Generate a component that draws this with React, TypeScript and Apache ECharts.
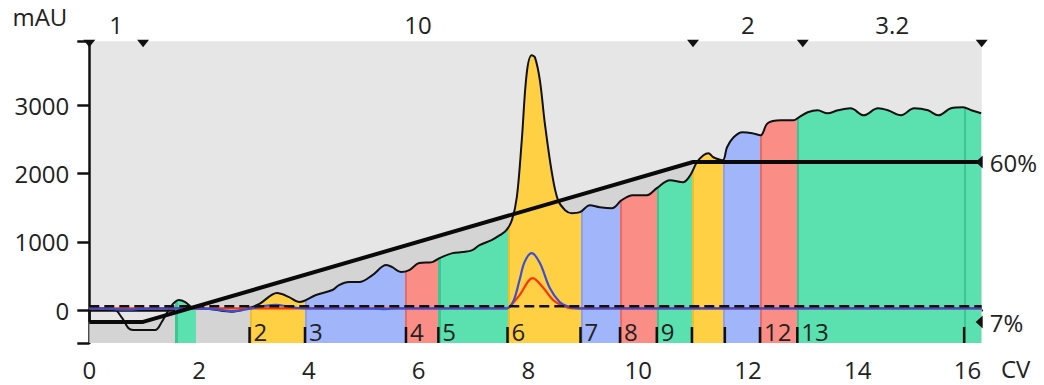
import React, { useEffect, useRef } from 'react';
import * as echarts from 'echarts';

// ---------- data ----------
const X_MIN = 0;
const X_MAX = 16.26;
const Y_MIN = -483;
const Y_MAX = 3937;

const xTickValues = [0, 2, 4, 6, 8, 10, 12, 14, 16];
const yTickValues = [0, 1000, 2000, 3000];
const xUnit = 'CV';
const yUnit = 'mAU';

// UV 1 (mAU) chromatogram
const uvCurve: [number, number][] = [
  [0, 25], [0.44, 15], [0.6, -120], [0.71, -263], [0.8, -293], [1.2, -293], [1.32, -176],
  [1.48, 44], [1.63, 146], [1.75, 117], [1.9, 29], [2.2, 15], [2.6, -25], [2.9, 29],
  [3.1, 90], [3.42, 249], [3.64, 190], [3.82, 117], [3.91, 132], [4.13, 220], [4.43, 293],
  [4.55, 366], [4.73, 410], [4.92, 410], [5.16, 512], [5.41, 658], [5.52, 629], [5.68, 556],
  [5.83, 585], [6.01, 688], [6.25, 702], [6.38, 761], [6.62, 834], [6.8, 849], [6.98, 878],
  [7.11, 951], [7.33, 1024], [7.48, 1097], [7.6, 1170], [7.7, 1317], [7.79, 1653], [7.88, 2487],
  [7.97, 3467], [8.06, 3731], [8.12, 3701], [8.21, 3365], [8.3, 2736], [8.43, 2004], [8.54, 1609],
  [8.67, 1463], [8.79, 1419], [8.94, 1434], [9.12, 1536], [9.3, 1507], [9.52, 1492], [9.7, 1609],
  [9.9, 1682], [10.16, 1682], [10.34, 1785], [10.58, 1902], [10.82, 1873], [10.95, 1975],
  [11.07, 2165], [11.19, 2268], [11.28, 2297], [11.37, 2238], [11.54, 2195], [11.62, 2385],
  [11.74, 2531], [11.9, 2604], [12.08, 2590], [12.23, 2560], [12.36, 2736], [12.6, 2780],
  [12.83, 2780], [12.93, 2824], [13.09, 2897], [13.27, 2926], [13.45, 2882], [13.64, 2926],
  [13.87, 2955], [14.11, 2853], [14.37, 2955], [14.55, 2926], [14.79, 2853], [15.03, 2955],
  [15.28, 2926], [15.47, 2853], [15.7, 2955], [15.92, 2970], [16.07, 2926], [16.25, 2882],
];

// UV 2 (blue)
const uv2Curve: [number, number][] = [
  [0, 25], [0.3, 25], [0.5, 10], [0.7, 5], [0.9, 15], [1.2, 25], [2.0, 25], [2.3, 10],
  [2.6, -15], [2.8, 0], [3.0, 30], [3.2, 60], [3.4, 75], [3.6, 55], [3.8, 30], [4.0, 25],
  [5.2, 20], [5.4, 12], [5.6, 25], [7.6, 25], [7.72, 117], [7.84, 439], [7.93, 702],
  [8.06, 834], [8.21, 688], [8.39, 322], [8.57, 117], [8.7, 58], [8.9, 25], [16.26, 25],
];

// UV 3 (red)
const uv3Curve: [number, number][] = [
  [0, 25], [7.6, 25], [7.72, 102], [7.84, 219], [8.08, 468], [8.26, 336], [8.45, 146],
  [8.63, 58], [8.8, 25], [16.26, 25],
];

const dashedLevel = 55;

// %B gradient
const gradientPoints: [number, number][] = [[0, 7], [0.98, 7], [11.0, 60], [16.26, 60]];

// flow rate segments
const flowMarks = [0, 0.98, 11.0, 13.0, 16.26];
const flowRates = ['1', '10', '2', '3.2'];

// fractions
const fracNumber = [1, 2, 3, 4, 5, 6, 7, 8, 9, 10, 11, 12, 13];
const fracStart = [1.57, 2.92, 3.93, 5.75, 6.36, 7.62, 8.95, 9.67, 10.34, 10.98, 11.55, 12.22, 12.9];
const fracEnd = [1.94, 3.93, 5.75, 6.36, 7.62, 8.95, 9.67, 10.34, 10.98, 11.55, 12.22, 12.9, 16.3];
const fracTickPos = [2.92, 3.93, 5.77, 6.36, 7.62, 8.95, 9.67, 10.34, 10.98, 11.58, 12.22, 12.9, 15.94];
const fracTickLabel = ['2', '3', '4', '5', '6', '7', '8', '9', '', '', '12', '13', ''];
const fracExtraMarks = [15.94];

// ---------- styles ----------
const FONT = '"Open Sans", "Noto Sans", sans-serif';
const FS = 24;
const TEXT = '#222';
const fillPalette = ['#5be0b0', '#ffd043', '#a0b5fa', '#fa8d85'];
const edgePalette = ['#3cc690', '#f0bd2c', '#8c9ff0', '#e86b65'];
const STRIP = 0.04;

function buildPieces() {
  const pieces: any[] = [];
  fracNumber.forEach((n, i) => {
    const ci = (n - 1) % 4;
    const s = fracStart[i];
    const e = fracEnd[i];
    const marks = [s, ...fracExtraMarks.filter((m) => m > s && m < e), e];
    for (let k = 0; k < marks.length - 1; k++) {
      pieces.push({ gte: marks[k], lt: marks[k] + STRIP, color: edgePalette[ci] });
      pieces.push({ gte: marks[k] + STRIP, lt: marks[k + 1], color: fillPalette[ci] });
    }
  });
  return pieces;
}

export default function App() {
  const ref = useRef<HTMLDivElement>(null);

  useEffect(() => {
    document.body.style.margin = '0';
    if (!ref.current) return;
    const chart = echarts.init(ref.current, null, { renderer: 'svg' });

    const option: any = {
      animation: false,
      textStyle: { fontFamily: FONT },
      grid: {
        left: 89.3,
        right: 62.3,
        top: 41.3,
        bottom: 42,
        show: true,
        backgroundColor: '#e6e6e6',
        borderWidth: 0,
      },
      graphic: [
        {
          type: 'text',
          left: 1001,
          top: 356,
          style: { text: xUnit, fill: TEXT, fontSize: FS, fontFamily: FONT },
        },
      ],
      visualMap: {
        type: 'piecewise',
        show: false,
        dimension: 0,
        seriesIndex: 1,
        pieces: buildPieces(),
        outOfRange: { color: 'rgba(0,0,0,0)' },
      },
      xAxis: {
        type: 'value',
        min: X_MIN,
        max: X_MAX,
        splitLine: { show: false },
        axisLine: { show: true, lineStyle: { color: '#111', width: 2.5 } },
        axisTick: { show: true, length: 12, lineStyle: { color: '#111', width: 2.5 }, customValues: xTickValues },
        axisLabel: {
          fontSize: FS,
          color: TEXT,
          fontFamily: FONT,
          margin: 14,
          customValues: xTickValues,
          formatter: (v: number) => String(v),
        },
      },
      yAxis: [
        {
          type: 'value',
          min: Y_MIN,
          max: Y_MAX,
          name: yUnit,
          nameLocation: 'end',
          nameGap: 13,
          nameTextStyle: { fontSize: FS, color: TEXT, fontFamily: FONT, align: 'right', padding: [0, 22, 0, 0] },
          splitLine: { show: false },
          axisLine: { show: true, lineStyle: { color: '#111', width: 2.5 } },
          axisTick: {
            show: true,
            length: 12,
            lineStyle: { color: '#111', width: 2.5 },
            customValues: [Y_MIN, ...yTickValues, Y_MAX],
          },
          axisLabel: {
            fontSize: FS,
            color: TEXT,
            fontFamily: FONT,
            margin: 20,
            customValues: yTickValues,
            formatter: (v: number) => String(v),
          },
        },
        { type: 'value', min: 0, max: 100, show: false },
      ],
      series: [
        {
          name: 'gradientArea',
          type: 'line',
          yAxisIndex: 1,
          data: gradientPoints,
          showSymbol: false,
          lineStyle: { opacity: 0 },
          areaStyle: { color: '#d4d4d4', opacity: 1, origin: 'start' },
          z: 1,
          silent: true,
        },
        {
          name: 'fractionFill',
          type: 'line',
          data: uvCurve,
          smooth: 0.35,
          showSymbol: false,
          lineStyle: { opacity: 0 },
          areaStyle: { opacity: 1, origin: 'start' },
          z: 2,
          silent: true,
        },
        {
          name: 'UV 1',
          type: 'line',
          data: uvCurve,
          smooth: 0.35,
          showSymbol: false,
          lineStyle: { color: '#111', width: 2 },
          z: 3,
        },
        {
          name: 'UV 3',
          type: 'line',
          data: uv3Curve,
          smooth: 0.35,
          showSymbol: false,
          lineStyle: { color: '#ff3300', width: 2.2 },
          z: 4,
        },
        {
          name: 'UV 2',
          type: 'line',
          data: uv2Curve,
          smooth: 0.35,
          showSymbol: false,
          lineStyle: { color: '#3a4fd6', width: 2.2 },
          z: 5,
        },
        {
          name: 'level',
          type: 'line',
          data: [[X_MIN, dashedLevel], [X_MAX, dashedLevel]],
          showSymbol: false,
          lineStyle: { color: '#111', width: 2.5, type: [10, 5] },
          z: 6,
        },
        {
          name: 'gradient',
          type: 'line',
          yAxisIndex: 1,
          data: gradientPoints,
          showSymbol: false,
          lineStyle: { color: '#0a0a0a', width: 4 },
          z: 7,
        },
        {
          name: 'fractionTicks',
          type: 'custom',
          data: fracTickPos.map((x) => [x, Y_MIN]),
          encode: { x: 0, y: 1 },
          z: 8,
          renderItem: (params: any, api: any) => {
            const p = api.coord([api.value(0), Y_MIN]);
            const label = fracTickLabel[params.dataIndex];
            return {
              type: 'group',
              children: [
                {
                  type: 'line',
                  shape: { x1: p[0], y1: p[1], x2: p[0], y2: p[1] - 16 },
                  style: { stroke: '#111', lineWidth: 2.5 },
                },
                {
                  type: 'text',
                  x: p[0] + 4,
                  y: p[1] - 12,
                  style: {
                    text: label,
                    fill: TEXT,
                    fontSize: FS,
                    fontFamily: FONT,
                    align: 'left',
                    verticalAlign: 'middle',
                  },
                },
              ],
            };
          },
        },
        {
          name: 'flowMarks',
          type: 'custom',
          data: flowMarks.map((x) => [x, Y_MAX]),
          encode: { x: 0, y: 1 },
          z: 8,
          renderItem: (params: any, api: any) => {
            const i = params.dataIndex;
            const p = api.coord([api.value(0), Y_MAX]);
            const children: any[] = [
              {
                type: 'polygon',
                shape: { points: [[p[0] - 6, p[1] - 1.5], [p[0] + 6, p[1] - 1.5], [p[0], p[1] + 6]] },
                style: { fill: '#111' },
              },
            ];
            if (i < flowRates.length) {
              const m = api.coord([(flowMarks[i] + flowMarks[i + 1]) / 2, Y_MAX]);
              children.push({
                type: 'text',
                x: m[0],
                y: m[1] - 17,
                style: {
                  text: flowRates[i],
                  fill: TEXT,
                  fontSize: FS,
                  fontFamily: FONT,
                  align: 'center',
                  verticalAlign: 'middle',
                },
              });
            }
            return { type: 'group', children };
          },
        },
        {
          name: 'gradientLabels',
          type: 'custom',
          yAxisIndex: 1,
          data: [gradientPoints[0], gradientPoints[gradientPoints.length - 1]].map((g) => [X_MAX, g[1]]),
          encode: { x: 0, y: 1 },
          z: 8,
          renderItem: (params: any, api: any) => {
            const v = api.value(1);
            const p = api.coord([X_MAX, v]);
            return {
              type: 'group',
              children: [
                {
                  type: 'polygon',
                  shape: { points: [[p[0] - 6, p[1]], [p[0] + 1, p[1] - 6.5], [p[0] + 1, p[1] + 6.5]] },
                  style: { fill: '#111' },
                },
                {
                  type: 'text',
                  x: p[0] + 8,
                  y: p[1] + 1,
                  style: {
                    text: v + '%',
                    fill: TEXT,
                    fontSize: FS,
                    fontFamily: FONT,
                    align: 'left',
                    verticalAlign: 'middle',
                  },
                },
              ],
            };
          },
        },
      ],
    };

    chart.setOption(option);
    return () => chart.dispose();
  }, []);

  return <div ref={ref} style={{ width: 1044, height: 385 }} />;
}
